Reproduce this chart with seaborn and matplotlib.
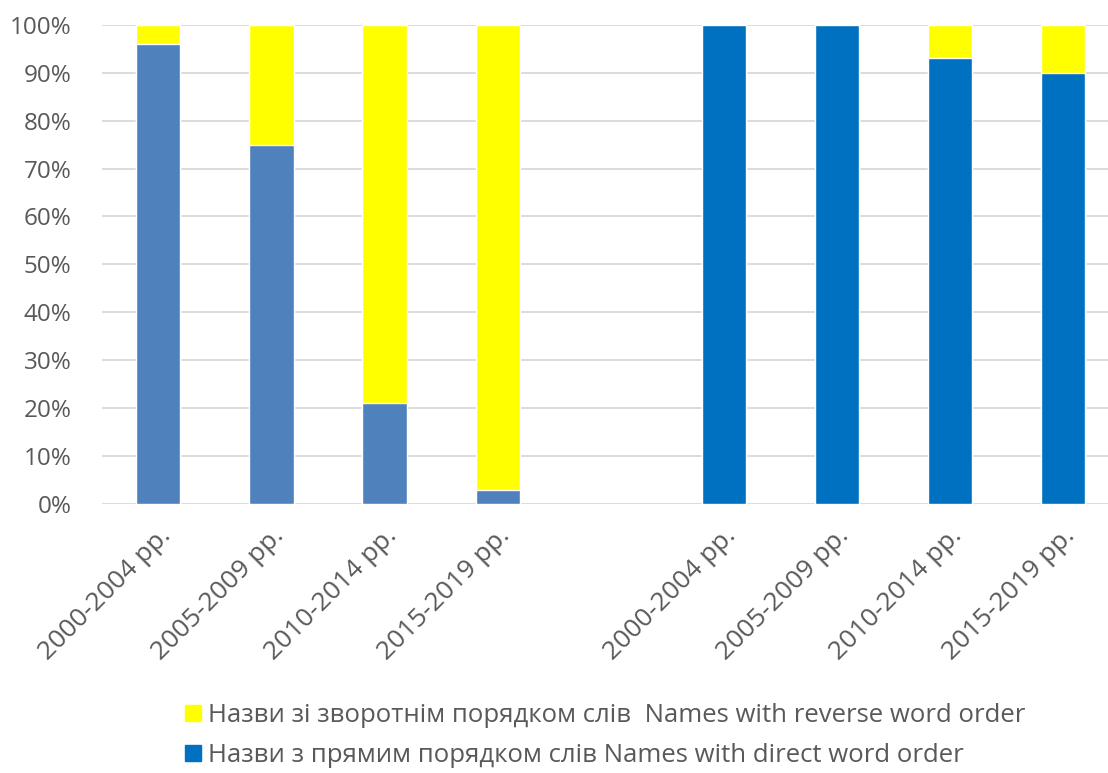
"""
Stacked 100% bar chart: word order in names, two groups of periods.
"""
import pandas as pd
import matplotlib
matplotlib.use("Agg")
import matplotlib.pyplot as plt
import matplotlib.ticker as ticker
from matplotlib.lines import Line2D
import seaborn as sns

# Data
periods = ["2000-2004 рр.", "2005-2009 рр.", "2010-2014 рр.", "2015-2019 рр."]
group_a_direct = [96, 75, 21, 3]
group_b_direct = [100, 100, 93, 90]
legend_reverse = "Назви зі зворотнім порядком слів  Names with reverse word order"
legend_direct = "Назви з прямим порядком слів Names with direct word order"

YELLOW = "#FFFF00"
BLUE_A = "#4F81BD"
BLUE_B = "#0070C0"
TEXT = "#595959"

ids_a = [f"a{i}" for i in range(len(periods))]
ids_b = [f"b{i}" for i in range(len(periods))]
order = ids_a + ["gap"] + ids_b

df = pd.DataFrame({
    "slot": ids_a + ids_b,
    "label": periods + periods,
    "group": ["a"] * len(periods) + ["b"] * len(periods),
    "direct": group_a_direct + group_b_direct,
})
df["total"] = 100

sns.set_style("white")
plt.rcParams["font.family"] = ["Open Sans", "DejaVu Sans"]

fig = plt.figure(figsize=(11.08, 7.73), dpi=100)
ax = fig.add_axes([0.092, 0.348, 0.908, 0.62])

# yellow = remainder (drawn as full bar underneath)
sns.barplot(data=df, x="slot", y="total", order=order, color=YELLOW,
            width=0.39, saturation=1, ax=ax)
sns.barplot(data=df, x="slot", y="direct", order=order, hue="group",
            palette={"a": BLUE_A, "b": BLUE_B}, dodge=False, legend=False,
            width=0.39, saturation=1, ax=ax)

ax.set_ylim(0, 100)
ax.set_xlim(-0.5, 8.4)
ax.yaxis.set_major_locator(ticker.MultipleLocator(10))
ax.yaxis.set_major_formatter(ticker.FuncFormatter(lambda v, _: f"{v:.0f}%"))
ax.grid(axis="y", color="#D9D9D9", linewidth=1.3)
ax.set_axisbelow(True)
sns.despine(ax=ax, left=True, bottom=True, top=True, right=True)

tick_labels = periods + [""] + periods
ax.set_xticks(range(len(order)))
ax.set_xticklabels(tick_labels, rotation=45, ha="right", rotation_mode="anchor",
                   fontsize=19, color=TEXT)
ax.tick_params(axis="x", length=0, pad=14)
ax.tick_params(axis="y", length=0, labelsize=17.5, labelcolor=TEXT, pad=22)
ax.set_xlabel("")
ax.set_ylabel("")

handles = [
    Line2D([], [], marker="s", linestyle="", markersize=12, color=YELLOW),
    Line2D([], [], marker="s", linestyle="", markersize=12, color=BLUE_B),
]
fig.legend(handles, [legend_reverse, legend_direct], loc="upper left",
           bbox_to_anchor=(0.141, 0.121), frameon=False, fontsize=18.5,
           labelcolor=TEXT, handletextpad=0.0, labelspacing=0.6,
           handlelength=1.1)

plt.savefig("out.png", dpi=100)
plt.close()
